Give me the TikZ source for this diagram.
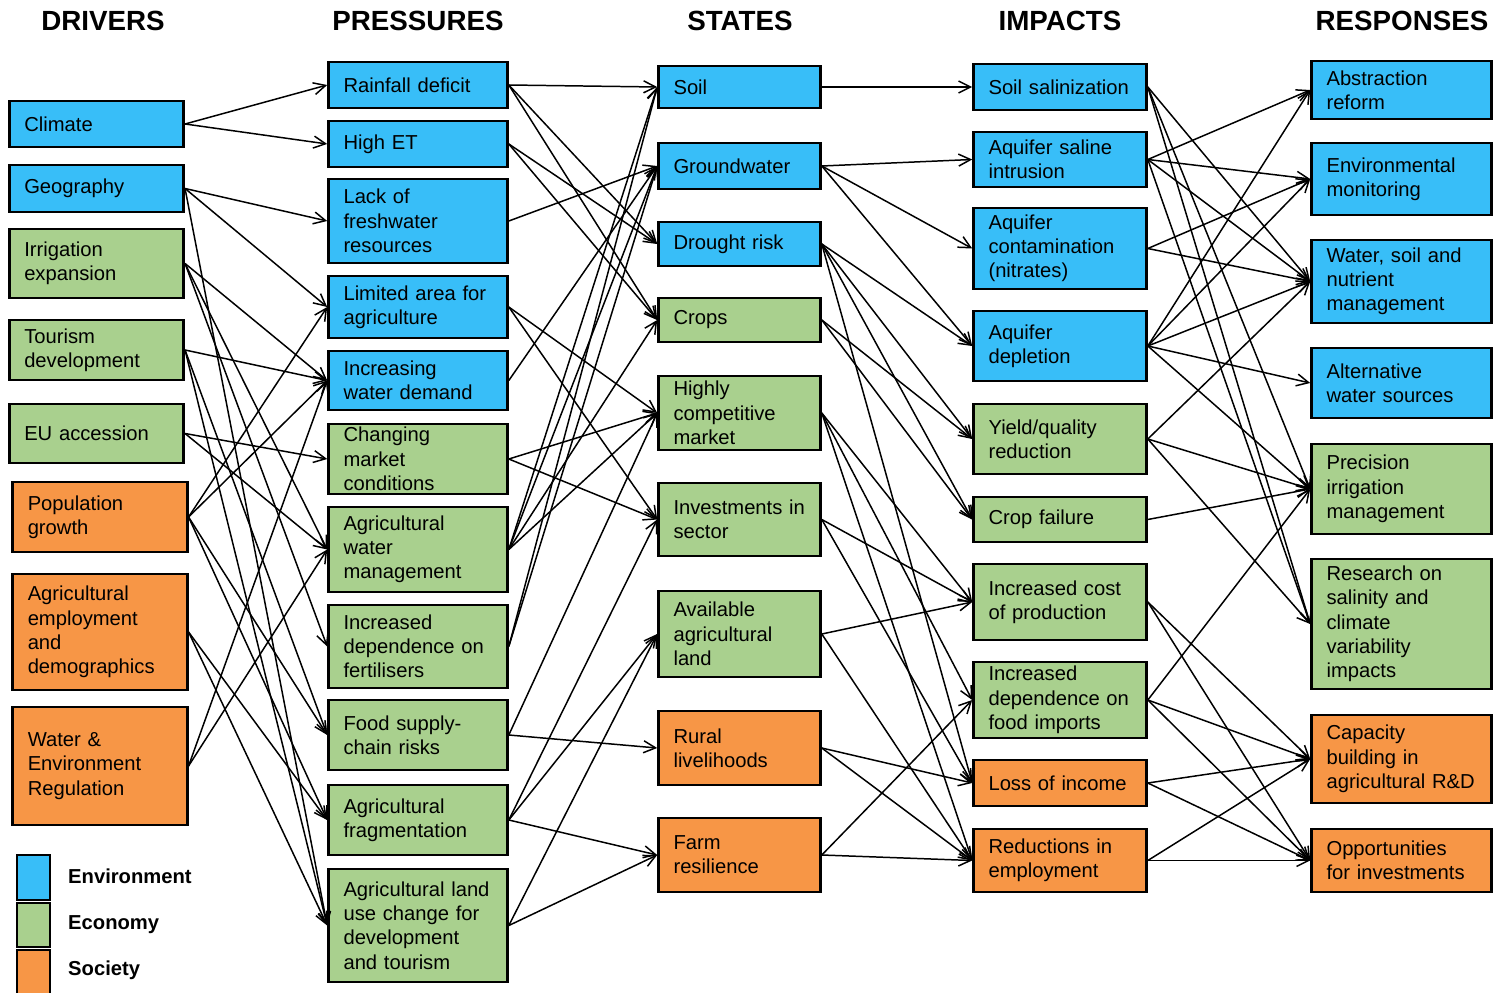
\documentclass[tikz,border=0pt]{standalone}
\usepackage{fontspec}
\setmainfont{Liberation Sans}
\usetikzlibrary{arrows.meta}
\definecolor{envBlue}{RGB}{56,190,248}
\definecolor{ecoGreen}{RGB}{169,208,142}
\definecolor{socOrange}{RGB}{247,150,70}

\tikzset{
  box/.style={draw=black, line width=1.5pt, rectangle, inner xsep=0.3cm, inner ysep=1pt,
    align=left, font=\fontsize{11.5}{13.8}\selectfont},
  env/.style={box, fill=envBlue},
  eco/.style={box, fill=ecoGreen},
  soc/.style={box, fill=socOrange},
  drv/.style={text width=2.89cm, minimum width=3.47cm},
  prs/.style={text width=2.98cm, minimum width=3.56cm},
  sta/.style={text width=2.64cm, minimum width=3.22cm},
  imp/.style={text width=2.86cm, minimum width=3.44cm},
  rsp/.style={text width=3.00cm, minimum width=3.58cm},
  head/.style={font=\fontsize{15.8}{18}\selectfont\bfseries},
  legtxt/.style={anchor=base west, font=\fontsize{11.5}{13.8}\selectfont\bfseries},
  arr/.style={->, line width=0.85pt}
}

\begin{document}
\begin{tikzpicture}[x=0.02cm, y=-0.02cm, >={Straight Barb[length=2.4mm,width=2.4mm]}]
        \useasboundingbox (0,0) rectangle (1493,993);
        % column headings
        \node[head] (hdrv) at (103,21) {DRIVERS};
        \node[head] (hprs) at (418,21) {PRESSURES};
        \node[head] (hsta) at (740,21) {STATES};
        \node[head] (himp) at (1060,21) {IMPACTS};
        \node[head] (hrsp) at (1402,21) {RESPONSES};
        % drivers
        \node[env, drv, minimum height=0.92cm] (clim) at (96.5,124) {Climate};
        \node[env, drv, minimum height=0.94cm] (geo) at (96.5,188.5) {Geography};
        \node[eco, drv, minimum height=1.38cm] (irr) at (96.5,263.5) {Irrigation\\expansion};
        \node[eco, drv, minimum height=1.20cm] (tour) at (96.5,350) {Tourism\\development};
        \node[eco, drv, minimum height=1.18cm] (eu) at (96.5,433.5) {EU accession};
        \node[soc, drv, minimum height=1.40cm] (pop) at (100,517) {Population\\growth};
        \node[soc, drv, minimum height=2.32cm] (agemp) at (100,632) {Agricultural\\employment\\and\\demographics};
        \node[soc, drv, minimum height=2.36cm] (wreg) at (100,766) {Water \&\\Environment\\Regulation};
        % pressures
        \node[env, prs, minimum height=0.92cm] (rain) at (418,85) {Rainfall deficit};
        \node[env, prs, minimum height=0.92cm] (het) at (418,144) {High ET};
        \node[env, prs, minimum height=1.68cm] (lack) at (418,221) {Lack of\\freshwater\\resources};
        \node[env, prs, minimum height=1.24cm] (lim) at (418,307) {Limited area for\\agriculture};
        \node[env, prs, minimum height=1.18cm] (iwd) at (418,380.5) {Increasing\\water demand};
        \node[eco, prs, minimum height=1.40cm] (chg) at (418,459) {Changing\\market\\conditions};
        \node[eco, prs, minimum height=1.70cm] (awm) at (418,549.5) {Agricultural\\water\\management};
        \node[eco, prs, minimum height=1.66cm] (fert) at (418,646.5) {Increased\\dependence on\\fertilisers};
        \node[eco, prs, minimum height=1.40cm] (food) at (418,735) {Food supply-\\chain risks};
        \node[eco, prs, minimum height=1.40cm] (frag) at (418,820) {Agricultural\\fragmentation};
        \node[eco, prs, minimum height=2.26cm] (luc) at (418,925.5) {Agricultural land\\use change for\\development\\and tourism};
        % states
        \node[env, sta, minimum height=0.84cm] (soil) at (739.5,87) {Soil};
        \node[env, sta, minimum height=0.92cm] (gw) at (739.5,166) {Groundwater};
        \node[env, sta, minimum height=0.88cm] (drought) at (739.5,244) {Drought risk};
        \node[eco, sta, minimum height=0.88cm] (crops) at (739.5,320) {Crops};
        \node[eco, sta, minimum height=1.48cm] (hcm) at (739.5,413) {Highly\\competitive\\market};
        \node[eco, sta, minimum height=1.46cm] (inv) at (739.5,519.5) {Investments in\\sector};
        \node[eco, sta, minimum height=1.72cm] (avl) at (739.5,634) {Available\\agricultural\\land};
        \node[soc, sta, minimum height=1.48cm] (rural) at (739.5,748) {Rural\\livelihoods};
        \node[soc, sta, minimum height=1.48cm] (farm) at (739.5,855) {Farm\\resilience};
        % impacts
        \node[env, imp, minimum height=0.92cm] (sal) at (1060,87) {Soil salinization};
        \node[env, imp, minimum height=1.10cm] (sint) at (1060,159.5) {Aquifer saline\\intrusion};
        \node[env, imp, minimum height=1.62cm] (cont) at (1060,248.5) {Aquifer\\contamination\\(nitrates)};
        \node[env, imp, minimum height=1.40cm] (depl) at (1060,346) {Aquifer\\depletion};
        \node[eco, imp, minimum height=1.40cm] (yield) at (1060,439) {Yield/quality\\reduction};
        \node[eco, imp, minimum height=0.90cm] (cfail) at (1060,519.5) {Crop failure};
        \node[eco, imp, minimum height=1.52cm] (cost) at (1060,602) {Increased cost\\of production};
        \node[eco, imp, minimum height=1.52cm] (fimp) at (1060,700) {Increased\\dependence on\\food imports};
        \node[soc, imp, minimum height=0.92cm] (loss) at (1060,783) {Loss of income};
        \node[soc, imp, minimum height=1.26cm] (empl) at (1060,860.5) {Reductions in\\employment};
        % responses
        \node[env, rsp, minimum height=1.16cm] (abst) at (1401.5,90) {Abstraction\\reform};
        \node[env, rsp, minimum height=1.44cm] (envm) at (1401.5,179) {Environmental\\monitoring};
        \node[env, rsp, minimum height=1.66cm] (wsn) at (1401.5,281.5) {Water, soil and\\nutrient\\management};
        \node[env, rsp, minimum height=1.40cm] (altw) at (1401.5,383) {Alternative\\water sources};
        \node[eco, rsp, minimum height=1.80cm] (prec) at (1401.5,489) {Precision\\irrigation\\management};
        \node[eco, rsp, minimum height=2.60cm] (res) at (1401.5,624) {Research on\\salinity and\\climate\\variability\\impacts};
        \node[soc, rsp, minimum height=1.76cm] (cap) at (1401.5,759) {Capacity\\building in\\agricultural R\&D};
        \node[soc, rsp, minimum height=1.26cm] (opp) at (1401.5,860.5) {Opportunities\\for investments};
        % legend
        \node[env, minimum width=0.66cm, minimum height=0.90cm] (legenv) at (33.5,877.5) {};
        \node[eco, minimum width=0.66cm, minimum height=0.88cm] (legeco) at (33.5,925) {};
        \node[soc, minimum width=0.66cm, minimum height=0.88cm] (legsoc) at (33.5,972) {};
        \node[legtxt] (legenvtxt) at (62,883) {Environment};
        \node[legtxt] (legecotxt) at (62,929) {Economy};
        \node[legtxt] (legsoctxt) at (62,975) {Society};
        % drivers -> pressures
        \draw[arr] (clim.east) -- (rain.west);
        \draw[arr] (clim.east) -- (het.west);
        \draw[arr] (geo.east) -- (lack.west);
        \draw[arr] (geo.east) -- (lim.west);
        \draw[arr] (geo.east) -- (luc.west);
        \draw[arr] (irr.east) -- (iwd.west);
        \draw[arr] (irr.east) -- (awm.west);
        \draw[arr] (irr.east) -- (fert.west);
        \draw[arr] (tour.east) -- (iwd.west);
        \draw[arr] (tour.east) -- (food.west);
        \draw[arr] (tour.east) -- (luc.west);
        \draw[arr] (eu.east) -- (chg.west);
        \draw[arr] (eu.east) -- (awm.west);
        \draw[arr] (pop.east) -- (lim.west);
        \draw[arr] (pop.east) -- (iwd.west);
        \draw[arr] (pop.east) -- (food.west);
        \draw[arr] (pop.east) -- (frag.west);
        \draw[arr] (agemp.east) -- (frag.west);
        \draw[arr] (agemp.east) -- (luc.west);
        \draw[arr] (wreg.east) -- (iwd.west);
        \draw[arr] (wreg.east) -- (awm.west);
        % pressures -> states
        \draw[arr] (rain.east) -- (soil.west);
        \draw[arr] (rain.east) -- (drought.west);
        \draw[arr] (rain.east) -- (crops.west);
        \draw[arr] (het.east) -- (drought.west);
        \draw[arr] (het.east) -- (crops.west);
        \draw[arr] (lack.east) -- (gw.west);
        \draw[arr] (lim.east) -- (hcm.west);
        \draw[arr] (lim.east) -- (inv.west);
        \draw[arr] (iwd.east) -- (gw.west);
        \draw[arr] (chg.east) -- (hcm.west);
        \draw[arr] (chg.east) -- (inv.west);
        \draw[arr] (awm.east) -- (soil.west);
        \draw[arr] (awm.east) -- (gw.west);
        \draw[arr] (awm.east) -- (crops.west);
        \draw[arr] (awm.east) -- (hcm.west);
        \draw[arr] (fert.east) -- (soil.west);
        \draw[arr] (fert.east) -- (gw.west);
        \draw[arr] (food.east) -- (hcm.west);
        \draw[arr] (food.east) -- (rural.west);
        \draw[arr] (frag.east) -- (inv.west);
        \draw[arr] (frag.east) -- (avl.west);
        \draw[arr] (frag.east) -- (farm.west);
        \draw[arr] (luc.east) -- (avl.west);
        \draw[arr] (luc.east) -- (farm.west);
        % states -> impacts
        \draw[arr] (soil.east) -- (sal.west);
        \draw[arr] (gw.east) -- (sint.west);
        \draw[arr] (gw.east) -- (cont.west);
        \draw[arr] (gw.east) -- (depl.west);
        \draw[arr] (drought.east) -- (depl.west);
        \draw[arr] (drought.east) -- (yield.west);
        \draw[arr] (drought.east) -- (cfail.west);
        \draw[arr] (drought.east) -- (loss.west);
        \draw[arr] (crops.east) -- (yield.west);
        \draw[arr] (crops.east) -- (cfail.west);
        \draw[arr] (hcm.east) -- (cost.west);
        \draw[arr] (hcm.east) -- (fimp.west);
        \draw[arr] (hcm.east) -- (empl.west);
        \draw[arr] (inv.east) -- (cost.west);
        \draw[arr] (inv.east) -- (loss.west);
        \draw[arr] (avl.east) -- (cost.west);
        \draw[arr] (avl.east) -- (empl.west);
        \draw[arr] (rural.east) -- (loss.west);
        \draw[arr] (rural.east) -- (empl.west);
        \draw[arr] (farm.east) -- (fimp.west);
        \draw[arr] (farm.east) -- (empl.west);
        % impacts -> responses
        \draw[arr] (sal.east) -- (wsn.west);
        \draw[arr] (sal.east) -- (prec.west);
        \draw[arr] (sal.east) -- (res.west);
        \draw[arr] (sint.east) -- (abst.west);
        \draw[arr] (sint.east) -- (envm.west);
        \draw[arr] (sint.east) -- (wsn.west);
        \draw[arr] (sint.east) -- (res.west);
        \draw[arr] (cont.east) -- (envm.west);
        \draw[arr] (cont.east) -- (wsn.west);
        \draw[arr] (depl.east) -- (abst.west);
        \draw[arr] (depl.east) -- (envm.west);
        \draw[arr] (depl.east) -- (wsn.west);
        \draw[arr] (depl.east) -- (altw.west);
        \draw[arr] (depl.east) -- (prec.west);
        \draw[arr] (yield.east) -- (wsn.west);
        \draw[arr] (yield.east) -- (prec.west);
        \draw[arr] (yield.east) -- (res.west);
        \draw[arr] (cfail.east) -- (prec.west);
        \draw[arr] (cost.east) -- (cap.west);
        \draw[arr] (cost.east) -- (opp.west);
        \draw[arr] (fimp.east) -- (prec.west);
        \draw[arr] (fimp.east) -- (cap.west);
        \draw[arr] (fimp.east) -- (opp.west);
        \draw[arr] (loss.east) -- (cap.west);
        \draw[arr] (loss.east) -- (opp.west);
        \draw[arr] (empl.east) -- (cap.west);
        \draw[arr] (empl.east) -- (opp.west);
    \end{tikzpicture}
\end{document}
